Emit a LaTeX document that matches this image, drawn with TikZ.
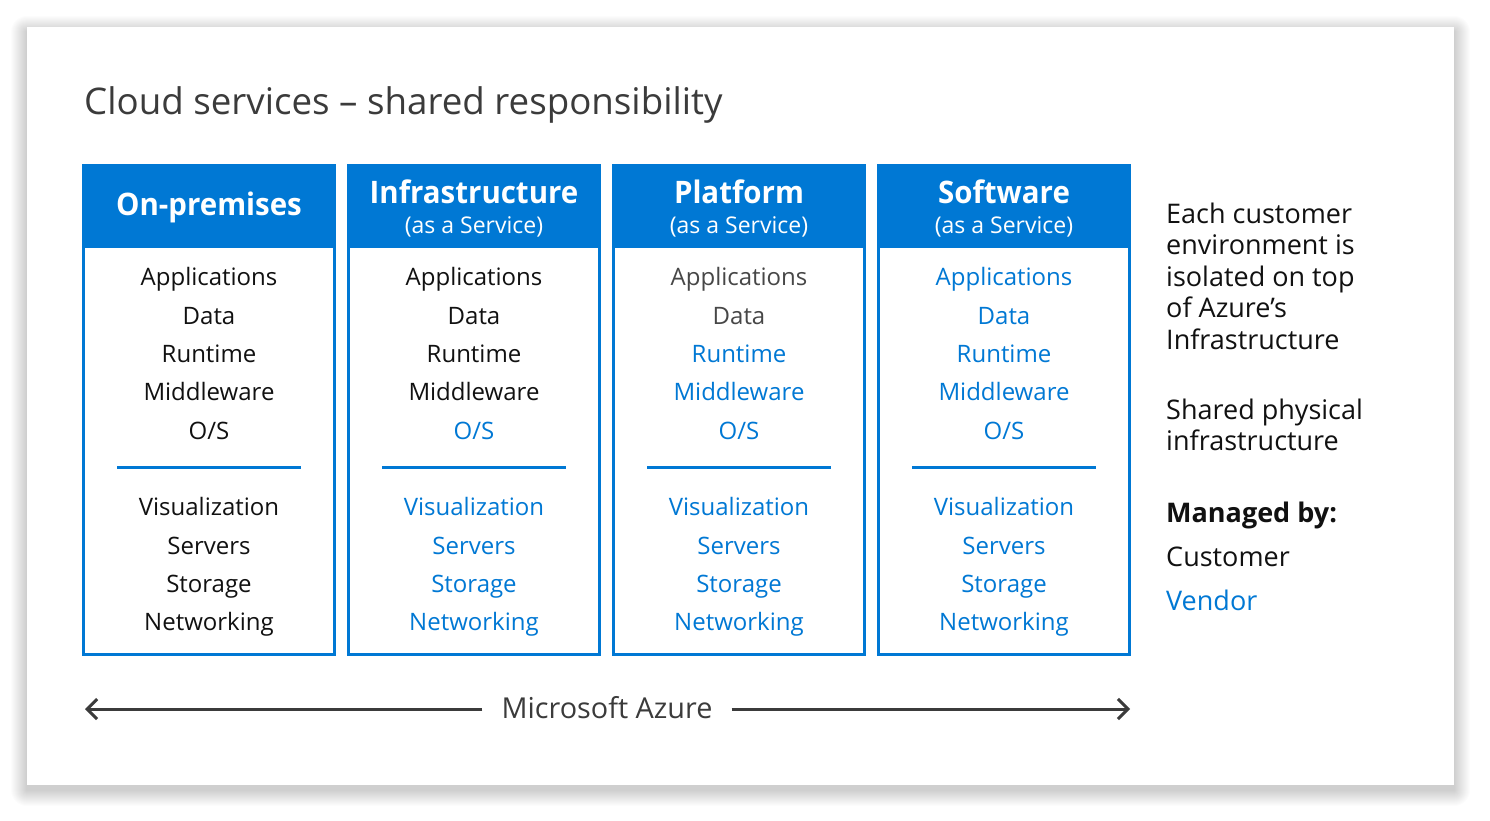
\documentclass[tikz,border=0pt]{standalone}
\usepackage{fontspec}
\setmainfont{Open Sans}
\newfontfamily\hdrfont[FakeStretch=0.95]{Open Sans}
\usetikzlibrary{arrows.meta}
\definecolor{azblue}{HTML}{0078D4}
\definecolor{dk}{HTML}{3B3B3B}
\definecolor{gr}{HTML}{474747}
\definecolor{ink}{HTML}{111111}
\begin{document}
\begin{tikzpicture}[x=1pt,y=-1pt,
  itemtxt/.style={anchor=base,font=\fontsize{24}{28}\selectfont,inner sep=0pt},
  hdrtxt/.style={anchor=base,font=\hdrfont\bfseries\fontsize{31}{36}\selectfont,text=white,inner sep=0pt},
  subtxt/.style={anchor=base,font=\fontsize{23}{28}\selectfont,text=white,inner sep=0pt},
  sidetxt/.style={anchor=base west,font=\fontsize{27}{31}\selectfont,text=ink,inner sep=0pt},
  colframe/.style={draw=azblue,line width=3pt},
  sepline/.style={draw=azblue,line width=3pt},
  azarrow/.style={draw=dk,line width=3pt,-{Straight Barb[length=10pt,width=20pt,line width=3pt]}}
]
\useasboundingbox (0,0) rectangle (1490,821);
\fill[white] (0,0) rectangle (1490,821);
% shadow
\foreach \i in {1,...,16}{
  \fill[black,opacity=0.012,rounded corners=\i pt] (27-\i,27-\i+5) rectangle (1454+\i,785+\i+5);
}
\fill[white] (27,27) rectangle (1454,785);
% title
\node[anchor=base west,inner sep=0pt,text=dk,font=\fontsize{36.7}{42}\selectfont] (title) at (84,115) {Cloud services – shared responsibility};

% columns
\foreach \i in {0,1,2,3}{
  \pgfmathsetmacro{\xo}{82+265*\i}
  \fill[azblue] (\xo,164) rectangle (\xo+254,248);
  \draw[colframe] (\xo+1.5,165.5) rectangle (\xo+252.5,654.5);
  \draw[sepline] (\xo+35,467) -- (\xo+219,467);
}
\node[hdrtxt] (h1) at (209,215) {On-premises};
\node[hdrtxt] (h2) at (474,204) {Infrastructure};
\node[subtxt] (s2) at (474,233) {(as a Service)};
\node[hdrtxt] (h3) at (739,204) {Platform};
\node[subtxt] (s3) at (739,233) {(as a Service)};
\node[hdrtxt] (h4) at (1004,204) {Software};
\node[subtxt] (s4) at (1004,233) {(as a Service)};

% items
\foreach \c/\xc/\ca/\cb/\cc/\cd/\ce/\cf in {
  1/209/ink/ink/ink/ink/ink/ink,
  2/474/ink/ink/ink/ink/azblue/azblue,
  3/739/gr/gr/azblue/azblue/azblue/azblue,
  4/1004/azblue/azblue/azblue/azblue/azblue/azblue}{
  \node[itemtxt,text=\ca] (app\c) at (\xc,285) {Applications};
  \node[itemtxt,text=\cb] (dat\c) at (\xc,324) {Data};
  \node[itemtxt,text=\cc] (run\c) at (\xc,362) {Runtime};
  \node[itemtxt,text=\cd] (mid\c) at (\xc,400) {Middleware};
  \node[itemtxt,text=\ce] (os\c) at (\xc,439) {O/S};
  \node[itemtxt,text=\cf] (vis\c) at (\xc,515) {Visualization};
  \node[itemtxt,text=\cf] (srv\c) at (\xc,554) {Servers};
  \node[itemtxt,text=\cf] (sto\c) at (\xc,592) {Storage};
  \node[itemtxt,text=\cf] (net\c) at (\xc,630) {Networking};
}

% side text
\node[sidetxt] (e1) at (1166,223) {Each customer};
\node[sidetxt] (e2) at (1166,254.5) {environment is};
\node[sidetxt] (e3) at (1166,286) {isolated on top};
\node[sidetxt] (e4) at (1166,317.5) {of Azure’s};
\node[sidetxt] (e5) at (1166,349) {Infrastructure};
\node[sidetxt] (p1) at (1166,419) {Shared physical};
\node[sidetxt] (p2) at (1166,450.5) {infrastructure};
\node[sidetxt,font=\bfseries\fontsize{27}{31}\selectfont] (mb) at (1166,522) {Managed by:};
\node[sidetxt] (cu) at (1166,566) {Customer};
\node[sidetxt,text=azblue] (ve) at (1166,610) {Vendor};

% Microsoft Azure arrow
\node[text=dk,font=\fontsize{28.8}{33}\selectfont,inner xsep=19pt,inner ysep=0pt] (az) at (607,708) {Microsoft Azure};
\coordinate (aL) at (85,709);
\coordinate (aR) at (1130,709);
\draw[azarrow] (az.west |- aL) -- (aL);
\draw[azarrow] (az.east |- aR) -- (aR);
\end{tikzpicture}
\end{document}
